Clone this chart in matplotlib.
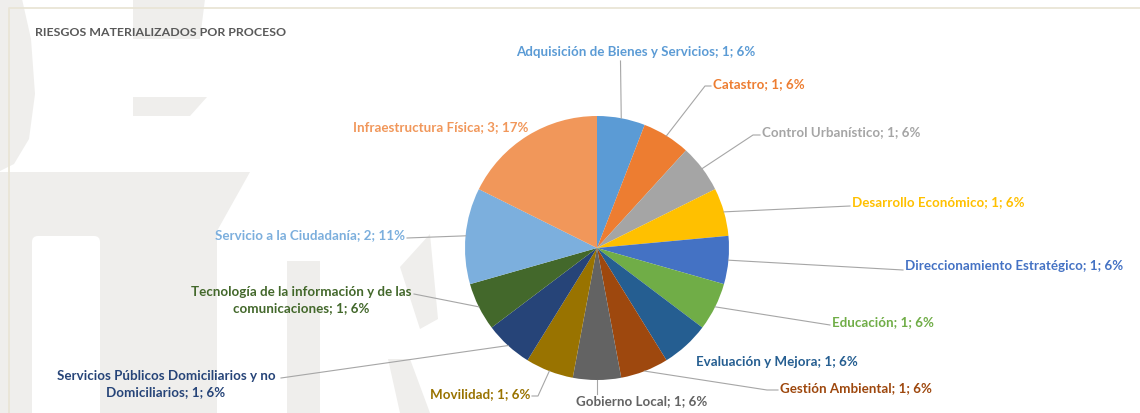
import numpy as np
import matplotlib
matplotlib.use("Agg")
import matplotlib.pyplot as plt
from matplotlib.patches import Polygon, FancyBboxPatch

plt.rcParams["font.family"] = ["Lato", "DejaVu Sans"]

# -------------------- data --------------------
procesos = [
    "Adquisición de Bienes y Servicios", "Catastro", "Control Urbanístico",
    "Desarrollo Económico", "Direccionamiento Estratégico", "Educación",
    "Evaluación y Mejora", "Gestión Ambiental", "Gobierno Local", "Movilidad",
    "Servicios Públicos Domiciliarios y no\nDomiciliarios",
    "Tecnología de la información y de las\ncomunicaciones",
    "Servicio a la Ciudadanía", "Infraestructura Física",
]
riesgos = [1, 1, 1, 1, 1, 1, 1, 1, 1, 1, 1, 1, 2, 3]
porcentajes = ["6%", "6%", "6%", "6%", "6%", "6%", "6%", "6%", "6%", "6%",
               "6%", "6%", "11%", "17%"]
titulo = "RIESGOS MATERIALIZADOS POR PROCESO"

# -------------------- style --------------------
colors = ["#5B9BD5", "#ED7D31", "#A5A5A5", "#FFC000", "#4472C4", "#70AD47",
          "#255E91", "#9E480E", "#636363", "#997300", "#264478", "#43682B",
          "#7CAFDD", "#F1975A"]
W, H = 1140, 414
cx, cy, R = 597, 249, 132
fs = 9.6
line_col = "#A6A6A6"

# label layout in pixels: (x, y, ha, leader path start points or None)
layout = [
    (636, 52, "center", [(620.5, 62)]),
    (713, 84, "left", [(711, 87), (705, 87)]),
    (762, 132, "left", [(760, 136), (753, 136)]),
    (852, 202, "left", [(850, 207)]),
    (905, 266, "left", [(903, 271)]),
    (832, 322, "left", [(830, 326)]),
    (696, 362, "left", None),
    (780, 388, "left", [(778, 391), (767, 391)]),
    (642, 401, "center", [(597, 395)]),
    (530, 394, "right", [(532, 397), (538, 397)]),
    (166, 384, "center", [(281, 379)]),
    (301, 300, "center", [(414, 295)]),
    (405, 235, "right", [(407, 239)]),
    (353, 127, "left", None),
]

fig = plt.figure(figsize=(W / 100, H / 100), dpi=100)
ax = fig.add_axes([0, 0, 1, 1])

# faint watermark in the background
wm = "#EFEEEC"
shapes = [
    [(0, 0), (22, 0), (31, 40), (35, 95), (29, 140), (14, 165), (0, 172)],
    [(133, 98), (207, 98), (190, 117), (133, 117)],
    [(133, 0), (205, 0), (200, 40), (133, 40)],
    [(0, 173), (250, 173), (217, 232), (217, 414), (0, 414)],
    [(287, 262), (320, 262), (320, 414), (287, 414)],
    [(400, 268), (430, 235), (438, 320), (420, 330)],
    [(388, 360), (410, 360), (430, 414), (400, 414)],
]
for s in shapes:
    ax.add_patch(Polygon(s, closed=True, fc=wm, ec="none", zorder=0))
ax.add_patch(FancyBboxPatch((32, 237), 68, 200, boxstyle="round,pad=0,rounding_size=6",
                            fc="white", ec="none", zorder=0.5))

# chart frame
ax.plot([9, 9, W], [H, 9, 9], color="#E9E5D6", lw=1.3, zorder=1)

ax.text(35, 33, titulo, fontsize=8.9, fontweight="bold", color="#595959",
        ha="left", va="center", zorder=5)

wedges, _ = ax.pie(riesgos, colors=colors, startangle=-90, counterclock=True,
                   center=(cx, cy), radius=R, frame=True,
                   wedgeprops=dict(linewidth=0))
ax.set_xlim(0, W)
ax.set_ylim(H, 0)
ax.axis("off")

for i, (w, name, n, pct) in enumerate(zip(wedges, procesos, riesgos, porcentajes)):
    x, y, ha, pts = layout[i]
    label = f"{name}; {n}; {pct}"
    ax.text(x, y, label, fontsize=fs, fontweight="bold", color=colors[i],
            ha=ha, va="center", multialignment="center", linespacing=1.35,
            zorder=5)
    if pts:
        mid = np.deg2rad((w.theta1 + w.theta2) / 2)
        px = cx + R * np.cos(mid)
        py = cy + R * np.sin(mid)
        xs = [p[0] for p in pts] + [px]
        ys = [p[1] for p in pts] + [py]
        ax.plot(xs, ys, color=line_col, lw=0.8, zorder=1.5)

fig.savefig("out.png", dpi=100)
